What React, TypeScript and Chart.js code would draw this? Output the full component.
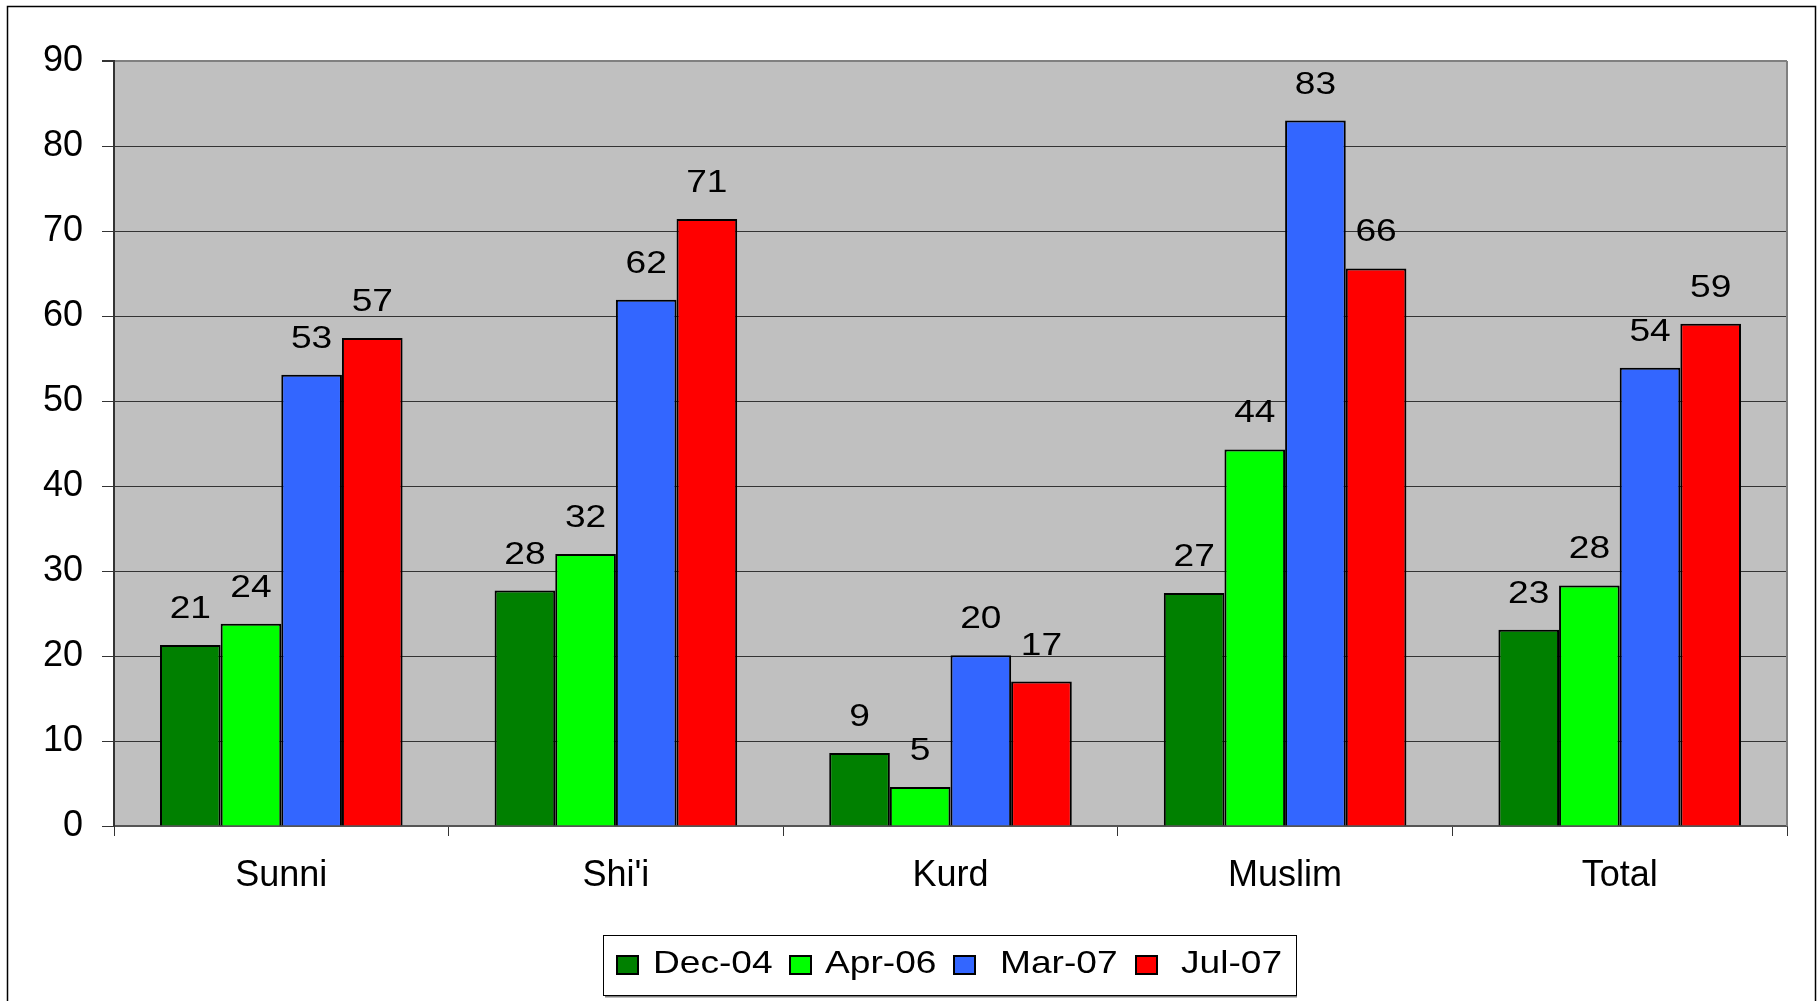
import React, { useEffect, useRef } from "react";
import { Chart, registerables } from "chart.js";

Chart.register(...registerables);

const categories = ["Sunni", "Shi'i", "Kurd", "Muslim", "Total"];
const seriesNames = ["Dec-04", "Apr-06", "Mar-07", "Jul-07"];
const dec04 = [21.3, 27.7, 8.6, 27.4, 23.1];
const apr06 = [23.8, 32.0, 4.6, 44.3, 28.3];
const mar07 = [53.1, 61.9, 20.1, 83.0, 53.9];
const jul07 = [57.4, 71.4, 17.0, 65.6, 59.1];
const seriesColors = ["#008000", "#00FF00", "#3366FF", "#FF0000"];
const yMin = 0;
const yMax = 90;
const yStep = 10;

const FONT = "'Liberation Sans', Arial, sans-serif";
const STRETCH = 1.16;

const bgPlugin = {
  id: "bgPlugin",
  beforeDraw(chart: any) {
    const { ctx, chartArea } = chart;
    ctx.save();
    ctx.fillStyle = "#FFFFFF";
    ctx.fillRect(0, 0, chart.width, chart.height);
    ctx.fillStyle = "#C0C0C0";
    ctx.fillRect(chartArea.left, chartArea.top, chartArea.right - chartArea.left, chartArea.bottom - chartArea.top);
    ctx.restore();
  },
  afterDatasetsDraw(chart: any) {
    const { ctx, chartArea } = chart;
    ctx.save();
    ctx.strokeStyle = "#808080";
    ctx.lineWidth = 2;
    ctx.beginPath();
    ctx.moveTo(chartArea.right, chartArea.top);
    ctx.lineTo(chartArea.right, chartArea.bottom);
    ctx.stroke();
    ctx.fillStyle = "#000";
    ctx.font = `32px ${FONT}`;
    ctx.textAlign = "center";
    ctx.textBaseline = "alphabetic";
    chart.data.datasets.forEach((ds: any, di: number) => {
      const meta = chart.getDatasetMeta(di);
      meta.data.forEach((bar: any, i: number) => {
        const v = ds.data[i];
        ctx.save();
        ctx.translate(bar.x, bar.y - 27);
        ctx.scale(STRETCH, 1);
        ctx.fillText(String(Math.round(v)), 0, 0);
        ctx.restore();
      });
    });
    ctx.restore();
  },
  afterDraw(chart: any) {
    const { ctx } = chart;
    ctx.save();
    ctx.strokeStyle = "#000";
    ctx.lineWidth = 1.5;
    ctx.strokeRect(7.5, 6.5, 1808, 1010);
    const lx = 603, ly = 935, lw = 693, lh = 60;
    ctx.fillStyle = "#FFFFFF";
    ctx.fillRect(lx, ly, lw, lh);
    ctx.strokeStyle = "#808080";
    ctx.lineWidth = 2;
    ctx.beginPath();
    ctx.moveTo(lx + 2, ly + lh + 1.5);
    ctx.lineTo(lx + lw + 1, ly + lh + 1.5);
    ctx.stroke();
    ctx.strokeStyle = "#000";
    ctx.lineWidth = 1;
    ctx.strokeRect(lx + 0.5, ly + 0.5, lw, lh);
    const swatchX = [617, 790, 954, 1136];
    const textX = [653, 825, 1000, 1181];
    ctx.font = `32px ${FONT}`;
    ctx.textAlign = "left";
    ctx.textBaseline = "alphabetic";
    seriesNames.forEach((name, i) => {
      ctx.fillStyle = seriesColors[i];
      ctx.fillRect(swatchX[i], 956, 21, 18);
      ctx.strokeStyle = "#000";
      ctx.lineWidth = 2;
      ctx.strokeRect(swatchX[i], 956, 21, 18);
      ctx.save();
      ctx.translate(textX[i], 973);
      ctx.scale(STRETCH, 1);
      ctx.fillStyle = "#000";
      ctx.fillText(name, 0, 0);
      ctx.restore();
    });
    ctx.restore();
  },
};

export default function App() {
  const ref = useRef<HTMLCanvasElement | null>(null);
  useEffect(() => {
    if (!ref.current) return;
    Chart.defaults.font.family = FONT;
    const seriesData = [dec04, apr06, mar07, jul07];
    const chart = new Chart(ref.current, {
      type: "bar",
      data: {
        labels: categories,
        datasets: seriesNames.map((name, i) => ({
          label: name,
          data: seriesData[i],
          backgroundColor: seriesColors[i],
          borderColor: "#000000",
          borderWidth: 2,
          categoryPercentage: 0.725,
          barPercentage: 1.0,
        })),
      },
      options: {
        responsive: false,
        animation: false,
        devicePixelRatio: 1,
        layout: { padding: { left: 0, right: 31, top: 61, bottom: 0 } },
        plugins: {
          legend: { display: false },
          tooltip: { enabled: false },
          title: { display: false },
        },
        scales: {
          x: {
            offset: true,
            grid: {
              offset: true,
              drawOnChartArea: false,
              drawTicks: true,
              tickLength: 10,
              color: "#333333",
              lineWidth: 1,
            },
            border: { display: true, color: "#555555", width: 2 },
            ticks: {
              color: "#000",
              font: { size: 36, family: FONT },
              padding: 18,
              maxRotation: 0,
              autoSkip: false,
            },
            afterFit(scale: any) {
              scale.height = 175;
            },
          },
          y: {
            min: yMin,
            max: yMax,
            grid: {
              color: (c: any) => (c.tick && c.tick.value === yMax ? "#808080" : "#333333"),
              lineWidth: (c: any) => (c.tick && c.tick.value === yMax ? 2 : 1),
              tickColor: "#333333",
              tickLength: 12,
              drawTicks: true,
            },
            border: { display: true, color: "#333333", width: 2 },
            ticks: {
              stepSize: yStep,
              color: "#000",
              font: { size: 36, family: FONT },
              padding: 19,
            },
            afterFit(scale: any) {
              scale.width = 114;
            },
          },
        },
      },
      plugins: [bgPlugin],
    } as any);
    return () => chart.destroy();
  }, []);
  return (
    <div style={{ position: "absolute", left: 0, top: 0, width: 1818, height: 1001, background: "#fff" }}>
      <canvas ref={ref} width={1818} height={1001} style={{ display: "block" }} />
    </div>
  );
}
